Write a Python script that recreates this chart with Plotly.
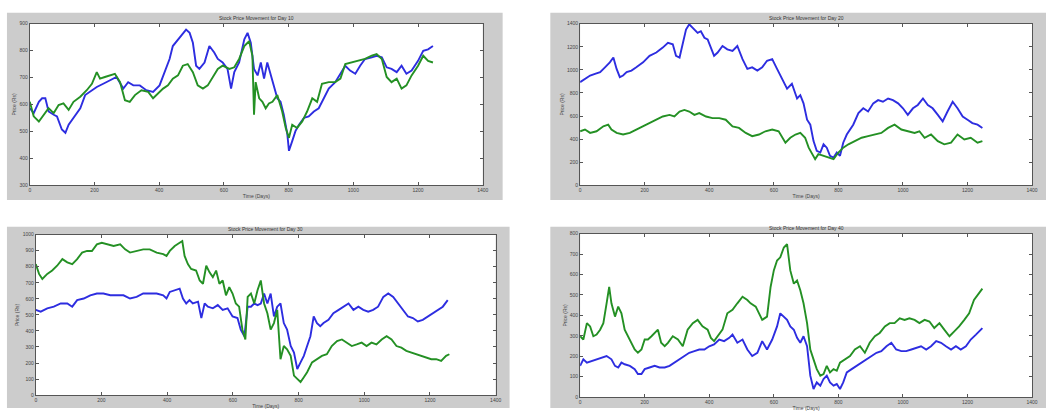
import plotly.graph_objects as go

# ---------------- data (day index, price) ----------------
# Panel 1
p1_blue_day = [0, 12, 28, 38, 48, 58, 74, 84, 99, 110, 120, 135, 156, 171, 186, 207, 227, 248, 268, 289,
               304, 320, 340, 360, 381, 401, 417, 432, 442, 458, 468, 483, 494, 504, 514, 524, 540, 555,
               570, 581, 596, 611, 622, 632, 647, 663, 673, 683, 693, 704, 714, 724, 734, 745, 755, 765,
               775, 785, 796, 801, 811, 821, 832, 847, 862, 878, 893, 908, 924, 944, 960, 975, 990, 1006,
               1021, 1036, 1057, 1072, 1088, 1103, 1118, 1134, 1149, 1164, 1180, 1200, 1216, 1231, 1246]
p1_blue_val = [586, 568, 610, 623, 623, 574, 562, 556, 507, 495, 525, 550, 586, 635, 647, 665, 677, 689, 702, 659,
               683, 671, 671, 653, 647, 671, 720, 769, 817, 842, 854, 878, 866, 829, 744, 732, 756, 817,
               793, 769, 756, 732, 659, 720, 756, 842, 866, 829, 732, 708, 756, 696, 756, 708, 659, 623,
               610, 562, 489, 428, 464, 501, 525, 550, 556, 574, 586, 623, 659, 683, 714, 744, 726, 714,
               744, 769, 775, 781, 775, 738, 732, 720, 744, 714, 726, 762, 799, 805, 817]
p1_green_day = [0, 12, 28, 43, 58, 74, 89, 104, 120, 135, 156, 176, 192, 207, 217, 232, 248, 263, 279, 294,
                309, 325, 345, 366, 381, 396, 412, 427, 442, 458, 473, 488, 504, 519, 535, 550, 565, 581,
                596, 617, 632, 647, 663, 678, 688, 693, 698, 709, 719, 729, 739, 750, 765, 780, 791, 801,
                811, 826, 842, 857, 873, 888, 903, 924, 944, 960, 975, 995, 1016, 1036, 1057, 1072, 1088,
                1103, 1118, 1134, 1149, 1164, 1180, 1200, 1216, 1231, 1246]
p1_green_val = [610, 556, 537, 562, 586, 568, 598, 604, 580, 610, 629, 653, 677, 720, 696, 702, 708, 714, 683, 616,
                610, 635, 653, 647, 623, 641, 659, 671, 696, 708, 744, 750, 720, 671, 659, 671, 702, 732,
                744, 732, 738, 769, 817, 835, 781, 562, 683, 623, 610, 586, 604, 610, 635, 574, 513, 476,
                525, 513, 537, 574, 623, 610, 677, 683, 683, 696, 750, 756, 762, 769, 781, 787, 769,
                702, 683, 696, 659, 671, 708, 744, 781, 762, 756]

# Panel 2
p2_blue_day = [0, 15, 31, 46, 62, 77, 92, 103, 113, 123, 133, 144, 159, 174, 195, 215, 236, 256, 272, 287,
               297, 308, 318, 328, 338, 349, 364, 374, 385, 395, 405, 415, 426, 441, 456, 472, 487, 503,
               518, 533, 549, 564, 579, 595, 610, 626, 641, 656, 672, 682, 692, 703, 713, 723, 733, 744,
               754, 764, 774, 785, 795, 805, 815, 826, 836, 846, 862, 877, 892, 908, 923, 938, 954, 969,
               985, 1000, 1015, 1031, 1046, 1062, 1077, 1092, 1108, 1123, 1138, 1154, 1169, 1185, 1200,
               1215, 1231, 1246]
p2_blue_val = [894, 923, 951, 965, 980, 1022, 1065, 1107, 1008, 937, 951, 980, 994, 1022, 1065, 1122, 1150, 1193,
               1235, 1221, 1122, 1107, 1235, 1349, 1395, 1363, 1320, 1335, 1278, 1264, 1193, 1122, 1150,
               1207, 1178, 1164, 1207, 1093, 1008, 1022, 994, 1022, 1079, 1093, 1008, 923, 838, 880, 752,
               781, 710, 568, 525, 383, 298, 284, 355, 326, 256, 241, 284, 256, 369, 440, 483, 525, 625,
               667, 639, 710, 738, 724, 752, 738, 710, 667, 610, 667, 696, 752, 696, 667, 610, 554, 639,
               724, 667, 596, 568, 539, 525, 497]
p2_green_day = [0, 15, 31, 51, 72, 87, 97, 113, 133, 154, 174, 195, 215, 236, 256, 277, 292, 308, 323, 338,
                354, 369, 390, 410, 431, 451, 472, 492, 513, 533, 554, 574, 595, 615, 636, 651, 667, 682,
                697, 708, 718, 728, 738, 754, 769, 785, 800, 815, 831, 851, 872, 892, 913, 933, 954, 974,
                995, 1015, 1036, 1051, 1067, 1087, 1108, 1128, 1149, 1169, 1190, 1210, 1231, 1246]
p2_green_val = [468, 483, 454, 468, 511, 525, 483, 454, 440, 454, 483, 511, 539, 568, 596, 610, 596, 639, 653, 639,
                610, 625, 596, 582, 582, 568, 511, 497, 454, 426, 440, 468, 483, 468, 369, 412, 440, 454,
                412, 326, 270, 227, 270, 256, 241, 227, 284, 326, 355, 383, 412, 426, 440, 454, 497, 525,
                483, 468, 454, 468, 412, 440, 383, 355, 369, 440, 397, 412, 369, 383]

# Panel 3
p3_green_day = [0, 10, 20, 35, 50, 65, 81, 96, 111, 126, 141, 156, 171, 186, 201, 217, 237, 257, 272, 287,
                307, 327, 347, 368, 388, 398, 408, 423, 438, 446, 453, 463, 473, 488, 499, 509, 519, 529,
                539, 549, 559, 569, 579, 589, 599, 609, 619, 629, 638, 645, 655, 665, 675, 685, 695, 705,
                715, 725, 735, 745, 755, 765, 776, 786, 796, 806, 816, 826, 841, 856, 871, 886, 901, 917,
                932, 947, 962, 977, 992, 1007, 1022, 1037, 1053, 1068, 1083, 1098, 1113, 1128, 1143, 1158,
                1173, 1188, 1204, 1219, 1234, 1249, 1259]
p3_green_val = [816, 755, 724, 755, 776, 806, 847, 827, 816, 847, 888, 898, 898, 939, 949, 939, 929, 939, 908, 888,
                898, 908, 908, 888, 878, 867, 898, 929, 949, 959, 867, 816, 786, 776, 714, 694, 806, 765,
                735, 776, 694, 714, 622, 673, 633, 571, 551, 408, 347, 612, 633, 571, 653, 714, 571, 510,
                408, 449, 531, 224, 306, 286, 245, 122, 102, 82, 112, 143, 204, 224, 245, 255, 306, 337,
                347, 327, 306, 316, 327, 306, 327, 316, 347, 367, 347, 306, 296, 276, 265, 255,
                245, 235, 224, 224, 214, 245, 255]
p3_blue_day = [0, 15, 35, 55, 76, 96, 111, 126, 146, 166, 186, 206, 227, 247, 267, 287, 307, 327, 347, 368,
               388, 398, 408, 423, 438, 448, 458, 468, 478, 494, 504, 514, 524, 539, 554, 569, 584, 599,
               614, 624, 635, 645, 655, 665, 675, 685, 695, 705, 715, 725, 735, 745, 755, 765, 776, 786,
               796, 806, 816, 826, 836, 846, 856, 866, 876, 891, 906, 922, 937, 952, 967, 982, 997, 1012,
               1027, 1042, 1058, 1073, 1088, 1103, 1118, 1133, 1148, 1163, 1178, 1194, 1209, 1224, 1239, 1254]
p3_blue_val = [531, 520, 541, 551, 571, 571, 551, 592, 602, 622, 633, 633, 622, 622, 622, 602, 612, 633, 633, 633,
               622, 602, 643, 653, 663, 602, 571, 592, 571, 582, 480, 571, 551, 541, 561, 531, 541, 490,
               480, 408, 367, 551, 551, 571, 561, 571, 633, 571, 633, 490, 551, 571, 449, 408, 306, 265,
               163, 204, 245, 306, 367, 490, 449, 429, 449, 469, 510, 531, 551, 571, 531, 551, 531, 520,
               531, 551, 612, 633, 612, 571, 531, 490, 480, 459, 469, 490, 510, 531, 551, 592]

# Panel 4
p4_green_day = [0, 10, 21, 31, 41, 51, 62, 72, 82, 90, 97, 108, 118, 128, 138, 149, 159, 169, 179, 190,
                200, 210, 221, 231, 241, 251, 262, 272, 287, 303, 318, 333, 349, 364, 379, 395, 405, 415,
                426, 441, 456, 472, 487, 503, 518, 528, 544, 554, 564, 579, 590, 600, 610, 620, 631, 641,
                651, 662, 672, 682, 692, 703, 713, 723, 733, 744, 754, 764, 774, 785, 795, 805, 820, 836,
                851, 867, 882, 897, 913, 928, 944, 959, 974, 990, 1005, 1020, 1036, 1051, 1067, 1082, 1097,
                1113, 1128, 1144, 1159, 1174, 1190, 1205, 1220, 1236, 1246]
p4_green_val = [298, 282, 362, 346, 298, 306, 330, 362, 459, 539, 459, 394, 443, 410, 330, 298, 266, 233, 217, 233,
                282, 282, 298, 314, 330, 266, 249, 266, 298, 282, 249, 330, 362, 378, 346, 330, 290, 274,
                298, 330, 410, 427, 459, 491, 475, 459, 443, 410, 378, 394, 539, 620, 668, 684, 732, 748,
                620, 555, 571, 523, 459, 362, 233, 185, 137, 105, 113, 153, 121, 137, 129, 169, 185, 201,
                233, 249, 217, 266, 298, 314, 346, 362, 362, 386, 378, 386, 378, 362, 378, 370, 338,
                362, 330, 298, 322, 346, 378, 410, 475, 507, 531]
p4_blue_day = [0, 10, 21, 36, 51, 67, 82, 97, 108, 118, 128, 138, 154, 169, 179, 190, 200, 215, 231, 246,
               262, 277, 292, 308, 323, 338, 354, 369, 385, 400, 415, 431, 446, 462, 472, 487, 503, 518,
               533, 549, 564, 579, 595, 610, 620, 631, 641, 651, 662, 672, 682, 692, 703, 713, 723, 733,
               744, 754, 764, 774, 785, 795, 805, 815, 826, 841, 856, 872, 887, 903, 918, 933, 949, 964,
               979, 995, 1010, 1026, 1041, 1056, 1072, 1087, 1103, 1118, 1133, 1149, 1164, 1179, 1195,
               1210, 1226, 1246]
p4_blue_val = [153, 185, 169, 177, 185, 193, 201, 185, 153, 145, 169, 161, 153, 137, 113, 113, 137, 145, 153, 145,
               145, 153, 169, 185, 201, 217, 225, 233, 233, 249, 258, 282, 274, 290, 306, 266, 282, 233,
               201, 217, 274, 233, 282, 346, 410, 394, 378, 346, 330, 290, 266, 298, 249, 105, 40, 72,
               56, 89, 105, 72, 56, 64, 40, 72, 121, 137, 153, 169, 185, 201, 217, 225, 249, 266,
               233, 225, 225, 233, 241, 249, 233, 249, 274, 266, 249, 233, 249, 233, 249,
               282, 306, 338]

x_ticks = [0, 200, 400, 600, 800, 1000, 1200, 1400]
titles = ["Stock Price Movement for Day 10", "Stock Price Movement for Day 20",
          "Stock Price Movement for Day 30", "Stock Price Movement for Day 40"]
x_label = "Time (Days)"
y_label = "Price (Rs)"
y_ranges = [(300, 900, 100), (0, 1400, 200), (0, 1000, 100), (0, 800, 100)]

# ---------------- layout geometry ----------------
W, H = 1052, 411
# plot areas in pixels: (left, right, top, bottom)
areas = [(29, 485, 21, 185), (583, 1038, 21, 185), (35, 498, 235, 398), (583, 1038, 234, 400)]
# grey figure panels behind each axes
panels = [(6, 505, 10, 200), (553, 1052, 10, 200), (6, 512, 227, 411), (553, 1052, 227, 411)]

BLUE = "#2d2de0"
GREEN = "#249024"

series = [
    (p1_blue_day, p1_blue_val, p1_green_day, p1_green_val),
    (p2_blue_day, p2_blue_val, p2_green_day, p2_green_val),
    (p3_blue_day, p3_blue_val, p3_green_day, p3_green_val),
    (p4_blue_day, p4_blue_val, p4_green_day, p4_green_val),
]

fig = go.Figure()
shapes = []
annotations = []
axis_font = dict(family="Liberation Sans, Arial, sans-serif", size=5, color="#444444")

for i, ((bd, bv, gd, gv), (l, r, t, b), (pl, pr, pt, pb), (y0, y1, dy)) in enumerate(
        zip(series, areas, panels, y_ranges)):
    n = "" if i == 0 else str(i + 1)
    xa, ya = "x" + n, "y" + n
    fig.add_trace(go.Scatter(x=bd, y=bv, mode="lines", line=dict(color=BLUE, width=1.9),
                             xaxis=xa, yaxis=ya, showlegend=False))
    fig.add_trace(go.Scatter(x=gd, y=gv, mode="lines", line=dict(color=GREEN, width=1.9),
                             xaxis=xa, yaxis=ya, showlegend=False))
    common = dict(showgrid=False, zeroline=False, showline=True, linecolor="#555555", linewidth=1,
                  mirror="ticks", ticks="inside", ticklen=3, tickcolor="#555555", tickfont=axis_font)
    fig.update_layout({
        "xaxis" + n: dict(domain=[l / W, r / W], anchor=ya, range=[0, 1400], tickvals=x_ticks,
                          title=dict(text=x_label, font=axis_font, standoff=2), **common),
        "yaxis" + n: dict(domain=[1 - b / H, 1 - t / H], anchor=xa, range=[y0, y1], dtick=dy,
                          title=dict(text=y_label, font=axis_font, standoff=2), **common),
    })
    shapes.append(dict(type="rect", xref="paper", yref="paper", x0=pl / W, x1=pr / W,
                       y0=1 - pb / H, y1=1 - pt / H, fillcolor="#cccccc", line=dict(width=0),
                       layer="below"))
    shapes.append(dict(type="rect", xref="paper", yref="paper", x0=l / W, x1=r / W,
                       y0=1 - b / H, y1=1 - t / H, fillcolor="white", line=dict(width=0),
                       layer="below"))
    annotations.append(dict(text=titles[i], xref="paper", yref="paper", x=(l + r) / 2 / W,
                            y=1 - (t - 1) / H, xanchor="center", yanchor="bottom", showarrow=False,
                            font=dict(family="Liberation Sans, Arial, sans-serif", size=5,
                                      color="#333333")))

fig.update_layout(width=W, height=H, margin=dict(l=0, r=0, t=0, b=0),
                  paper_bgcolor="white", plot_bgcolor="rgba(0,0,0,0)",
                  shapes=shapes, annotations=annotations)

fig.write_html("out.html")
